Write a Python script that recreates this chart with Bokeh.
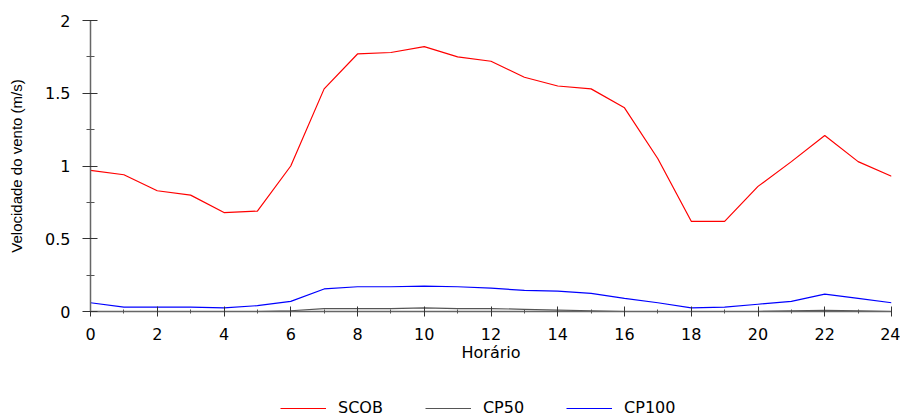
from bokeh.plotting import figure
from bokeh.models import Range1d, FixedTicker, NumeralTickFormatter, Legend, LegendItem
from bokeh.layouts import column
from bokeh.embed import file_html
from bokeh.resources import INLINE

hours = list(range(25))
scob = [0.97, 0.94, 0.83, 0.80, 0.68, 0.69, 1.00, 1.53, 1.77, 1.78, 1.82, 1.75, 1.72,
        1.61, 1.55, 1.53, 1.40, 1.05, 0.62, 0.62, 0.86, 1.03, 1.21, 1.03, 0.93]
cp50 = [0.0, 0.0, 0.0, 0.0, 0.0, 0.0, 0.005, 0.02, 0.02, 0.02, 0.025, 0.02, 0.02,
        0.015, 0.01, 0.005, 0.0, 0.0, 0.0, 0.0, 0.0, 0.005, 0.008, 0.004, 0.0]
cp100 = [0.06, 0.03, 0.03, 0.03, 0.025, 0.04, 0.07, 0.155, 0.17, 0.17, 0.175, 0.17, 0.16,
         0.145, 0.14, 0.125, 0.09, 0.06, 0.025, 0.03, 0.05, 0.07, 0.12, 0.09, 0.06]

series_names = ["SCOB", "CP50", "CP100"]
series_colors = ["#ff0000", "#555555", "#0000ff"]

x_ticks = [0, 2, 4, 6, 8, 10, 12, 14, 16, 18, 20, 22, 24]
x_minor = [1, 3, 5, 7, 9, 11, 13, 15, 17, 19, 21, 23]
y_ticks = [0, 0.5, 1, 1.5, 2]
y_minor = [0.25, 0.75, 1.25, 1.75]

FONT = "DejaVu Sans"

p = figure(width=900, height=375, output_backend="svg", toolbar_location=None,
           x_range=Range1d(0, 24), y_range=Range1d(0, 2),
           min_border_left=90, min_border_right=9, min_border_top=20, min_border_bottom=64)
p.outline_line_color = None
p.grid.grid_line_color = None
p.background_fill_color = "white"

all_series = [scob, cp50, cp100]
for ys, c in zip(all_series, series_colors):
    p.line(hours, ys, line_color=c, line_width=1.2)

for ax in (p.xaxis[0], p.yaxis[0]):
    ax.axis_line_color = "#666666"
    ax.axis_line_width = 1.5
    ax.major_tick_line_color = "#333333"
    ax.minor_tick_line_color = "#555555"
    ax.major_label_text_font = FONT
    ax.major_label_text_font_size = "16px"
    ax.major_label_text_color = "black"
    ax.axis_label_text_font = "Liberation Sans"
    ax.axis_label_text_font_style = "normal"
    ax.axis_label_text_color = "black"

xa = p.xaxis[0]
xa.ticker = FixedTicker(ticks=x_ticks, minor_ticks=x_minor)
xa.major_tick_in = 5
xa.major_tick_out = 5
xa.minor_tick_in = 2
xa.minor_tick_out = 2
xa.major_label_standoff = 11
xa.axis_label = "Horário"
xa.axis_label_text_font = FONT
xa.axis_label_text_font_size = "16px"
xa.axis_label_standoff = 0

ya = p.yaxis[0]
ya.ticker = FixedTicker(ticks=y_ticks, minor_ticks=y_minor)
ya.formatter = NumeralTickFormatter(format="0.[0]")
ya.major_tick_in = 7
ya.major_tick_out = 8
ya.minor_tick_in = 4
ya.minor_tick_out = 4
ya.major_label_standoff = 12
ya.axis_label = "Velocidade do vento (m/s)"
ya.axis_label_text_font_size = "15px"
ya.axis_label_standoff = 17

# legend strip below the chart (its frame is aligned with the chart's frame)
lf = figure(width=900, height=42, output_backend="svg", toolbar_location=None,
            x_range=Range1d(-10, -9), y_range=Range1d(-10, -9),
            x_axis_location=None, y_axis_location=None,
            min_border_left=0, min_border_right=0, min_border_top=0, min_border_bottom=0)
lf.outline_line_color = None
lf.grid.grid_line_color = None
items = []
for name, ys, c in zip(series_names, all_series, series_colors):
    r = lf.line(hours, ys, line_color=c, line_width=1.2)
    items.append(LegendItem(label=name, renderers=[r]))

legend = Legend(items=items, orientation="horizontal", location=(190, 0))
legend.border_line_color = None
legend.background_fill_alpha = 0
legend.label_text_font = FONT
legend.label_text_font_size = "16px"
legend.label_text_color = "black"
legend.glyph_width = 46
legend.glyph_height = 16
legend.label_standoff = 12
legend.spacing = 42
legend.padding = 0
legend.margin = 0
lf.add_layout(legend, "center")

layout = column(p, lf, spacing=0)
open("out.html", "w").write(file_html(layout, INLINE))
